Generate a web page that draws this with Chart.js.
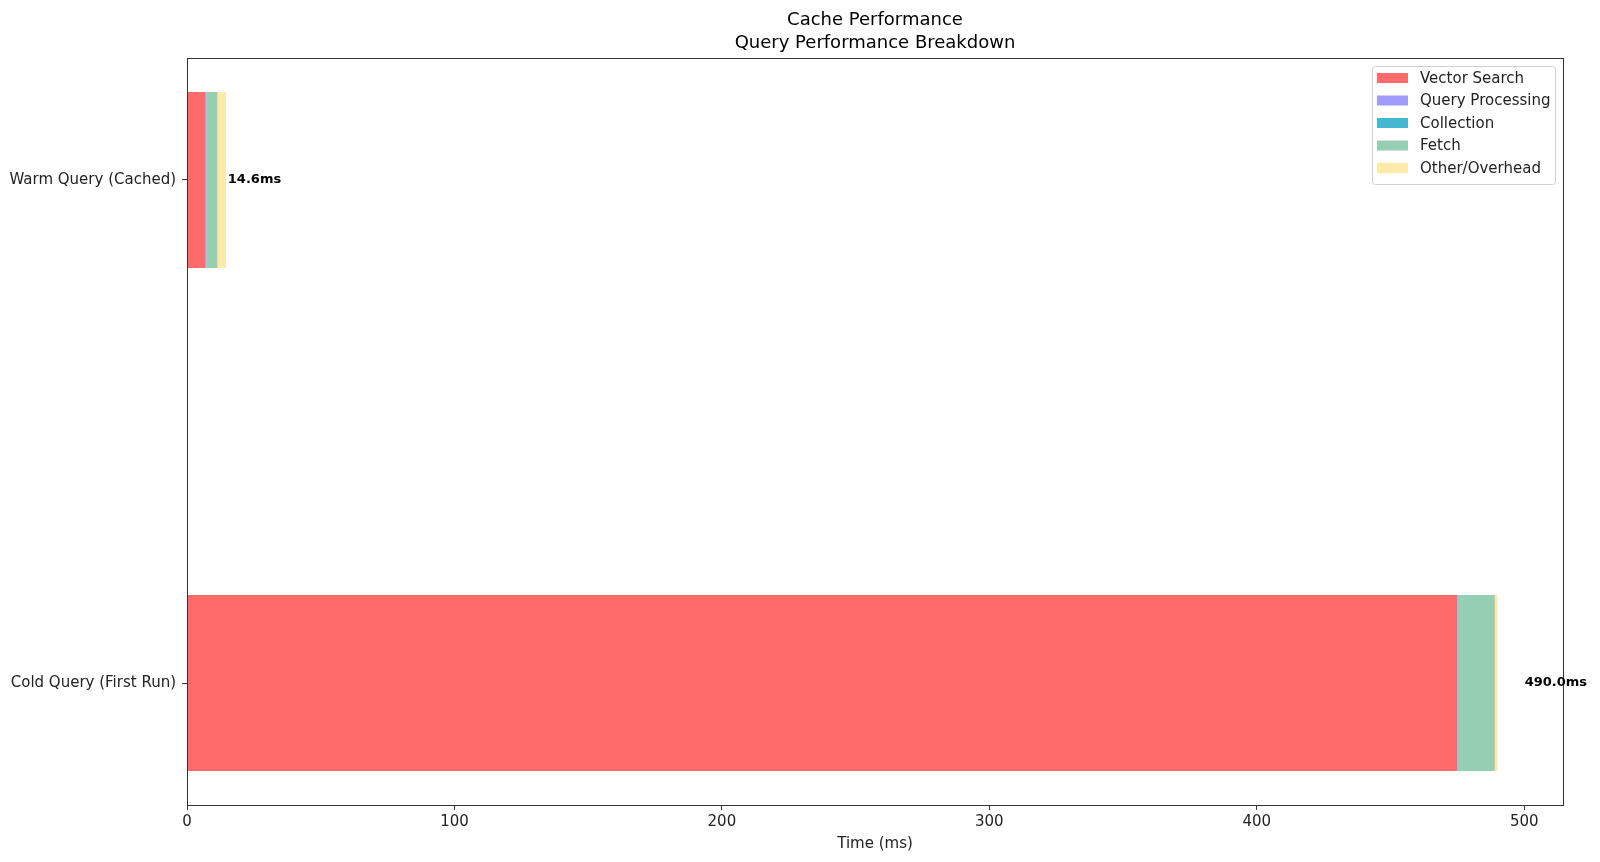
<!DOCTYPE html>
<html>
<head>
<meta charset="utf-8">
<script src="https://cdn.jsdelivr.net/npm/chart.js@4"></script>
<style>
  body { margin: 0; background: #fff; }
  #wrap { width: 1600px; height: 862px; }
</style>
</head>
<body>
<div id="wrap"><canvas id="perfChart"></canvas></div>
<script>
// categories, bottom to top
const categories = ["Cold Query (First Run)", "Warm Query (Cached)"];
const categoryPos = [0, 1];

// time per stage in ms
const vectorSearch = [475.0, 7.0];
const queryProcessing = [0.3, 0.3];
const collection = [0.2, 0.1];
const fetchTime = [13.5, 4.0];
const otherOverhead = [1.0, 3.2];
const totals = [490.0, 14.6];

const xTicks = [0, 100, 200, 300, 400, 500];

const titleLines = ["Cache Performance", "Query Performance Breakdown"];
const seriesNames = ["Vector Search", "Query Processing", "Collection", "Fetch", "Other/Overhead"];
const seriesColors = ["#FF6B6B", "#A29BFE", "#45B7D1", "#96CEB4", "#FFEAA7"];
const seriesValues = [vectorSearch, queryProcessing, collection, fetchTime, otherOverhead];

const FONT = "'DejaVu Sans', sans-serif";

const datasets = seriesNames.map((name, i) => ({
  label: name,
  backgroundColor: seriesColors[i],
  borderWidth: 0,
  data: seriesValues[i].map((v, j) => ({ x: v, y: categoryPos[j] })),
  barPercentage: 0.35,
  categoryPercentage: 1.0,
}));

// title, frame around the plot, total labels and legend box
const extrasPlugin = {
  id: "extras",
  afterDraw(chart) {
    const { ctx, chartArea, scales } = chart;
    ctx.save();

    // title centred over the plot area
    ctx.font = "18px " + FONT;
    ctx.fillStyle = "#000";
    ctx.textAlign = "center";
    ctx.textBaseline = "middle";
    const midX = (chartArea.left + chartArea.right) / 2;
    titleLines.forEach((line, i) => ctx.fillText(line, midX, 20 + i * 23.5));

    ctx.strokeStyle = "#333";
    ctx.lineWidth = 1;
    ctx.strokeRect(
      Math.round(chartArea.left) + 0.5,
      Math.round(chartArea.top) + 0.5,
      Math.round(chartArea.right - chartArea.left),
      Math.round(chartArea.bottom - chartArea.top)
    );

    // total labels
    ctx.font = "bold 13px " + FONT;
    ctx.fillStyle = "#000";
    ctx.textAlign = "left";
    totals.forEach((t, i) => {
      const x = scales.x.getPixelForValue(t * 1.02) + 1;
      const y = scales.y.getPixelForValue(categoryPos[i]);
      ctx.fillText(t.toFixed(1) + "ms", x, y);
    });

    // legend
    const bx = 1372, by = 66, bw = 183, bh = 118;
    ctx.fillStyle = "rgba(255,255,255,0.8)";
    ctx.strokeStyle = "#d0d0d0";
    ctx.beginPath();
    ctx.roundRect(bx + 0.5, by + 0.5, bw, bh, 3);
    ctx.fill();
    ctx.stroke();
    ctx.font = "15px " + FONT;
    seriesNames.forEach((name, i) => {
      const cy = 78 + i * 22.5;
      ctx.fillStyle = seriesColors[i];
      ctx.fillRect(1377, cy - 5, 31, 10);
      ctx.fillStyle = "#222";
      ctx.fillText(name, 1420, cy + 1);
    });
    ctx.restore();
  },
};

new Chart(document.getElementById("perfChart"), {
  type: "bar",
  data: { datasets },
  options: {
    indexAxis: "y",
    responsive: true,
    maintainAspectRatio: false,
    animation: false,
    layout: { padding: { left: 0, right: 37, top: 58, bottom: 0 } },
    plugins: {
      legend: { display: false },
      tooltip: { enabled: false },
      title: { display: false },
    },
    scales: {
      x: {
        type: "linear",
        stacked: true,
        min: 0,
        max: 514.5,
        border: { display: false },
        grid: { drawOnChartArea: false, drawTicks: true, tickLength: 5, color: "#333" },
        afterBuildTicks: (scale) => {
          scale.ticks = xTicks.map((v) => ({ value: v }));
        },
        afterFit: (scale) => {
          scale.height = 57;
        },
        ticks: {
          color: "#222",
          padding: 3,
          maxRotation: 0,
          font: { family: FONT, size: 15 },
        },
        title: {
          display: true,
          text: "Time (ms)",
          color: "#222",
          font: { family: FONT, size: 15 },
          padding: { top: 0, bottom: 9 },
        },
      },
      y: {
        type: "linear",
        stacked: true,
        offset: false,
        min: -0.2425,
        max: 1.2425,
        border: { display: false },
        grid: { offset: false, drawOnChartArea: false, drawTicks: true, tickLength: 5, color: "#333" },
        afterBuildTicks: (scale) => {
          scale.ticks = categoryPos.map((v) => ({ value: v }));
        },
        afterFit: (scale) => {
          scale.width = 187;
        },
        ticks: {
          color: "#222",
          padding: 6,
          font: { family: FONT, size: 15 },
          callback: (value) => categories[categoryPos.indexOf(value)],
        },
      },
    },
  },
  plugins: [extrasPlugin],
});
</script>
</body>
</html>
